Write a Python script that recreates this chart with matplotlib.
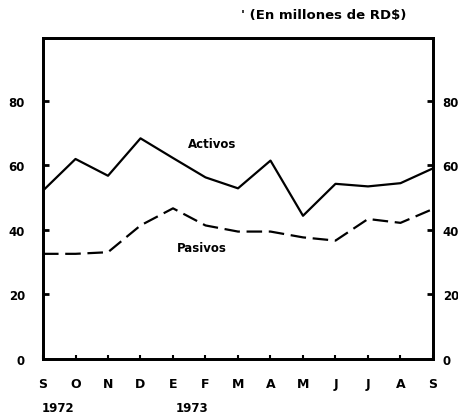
import matplotlib
matplotlib.use("Agg")
import matplotlib.pyplot as plt

# Activos y pasivos, sep 1972 - sep 1973 (millones de RD$)
months = ["S", "O", "N", "D", "E", "F", "M", "A", "M", "J", "J", "A", "S"]
activos = [52.2, 62.0, 56.8, 68.4, 62.3, 56.3, 52.9, 61.5, 44.4, 54.3, 53.5, 54.5, 59.1]
pasivos = [32.6, 32.6, 33.1, 41.4, 46.7, 41.4, 39.5, 39.5, 37.7, 36.7, 43.4, 42.2, 46.5]
yticks = [0, 20, 40, 60, 80]
years = ["1972", "1973"]

plt.rcParams['font.family'] = ['DejaVu Sans']
plt.rcParams['font.weight'] = 'bold'

fig = plt.figure(figsize=(4.58, 4.14), dpi=100)
ax = fig.add_axes([43/458, 54/414, 390/458, 321/414])

x = list(range(len(months)))
ax.plot(x, activos, color='black', lw=1.6)
ax.plot(x, pasivos, color='black', lw=1.6, dashes=(7, 3))

ax.set_xlim(0, 12)
ax.set_ylim(0, 99.5)

ax.set_yticks(yticks)
ax.set_yticklabels([str(v) for v in yticks], fontsize=8.5, fontweight='bold')
ax.tick_params(axis='y', direction='in', length=4, width=2, pad=13)
ax.set_xticks(x)
ax.set_xticklabels(months, fontsize=9, fontweight='bold')
ax.tick_params(axis='x', direction='in', length=3, width=1.5, pad=13)

# right-hand scale, sitting closer to the frame
ax2 = ax.twinx()
ax2.set_ylim(ax.get_ylim())
ax2.set_yticks(yticks)
ax2.set_yticklabels([str(v) for v in yticks], fontsize=8.5, fontweight='bold')
ax2.tick_params(axis='y', direction='in', length=4, width=2, pad=7)

for a in (ax, ax2):
    for s in a.spines.values():
        s.set_linewidth(2)

ax.text(5.2, 65.8, "Activos", fontsize=8.5, fontweight='bold', ha='center')
ax.text(4.9, 33.5, "Pasivos", fontsize=8.5, fontweight='bold', ha='center')

fig.text(324/458, 1 - 15/414, "' (En millones de RD$)", fontsize=9.5,
         fontweight='bold', ha='center', va='center')
fig.text(58/458, 1 - 409/414, years[0], fontsize=8.5, fontweight='bold',
         ha='center', va='center')
fig.text(192/458, 1 - 409/414, years[1], fontsize=8.5, fontweight='bold',
         ha='center', va='center')

fig.savefig("out.png", dpi=100)
